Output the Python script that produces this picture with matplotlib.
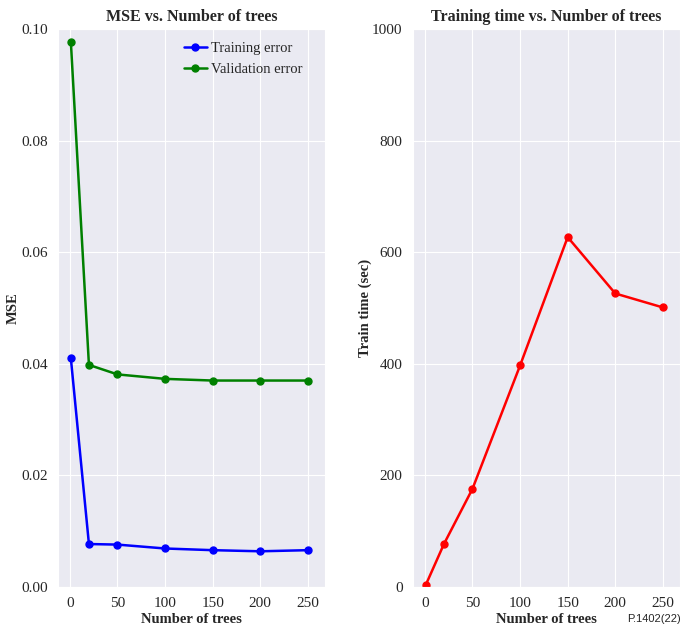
import matplotlib
matplotlib.use("Agg")
import matplotlib.pyplot as plt
import seaborn as sns

n_trees = [1, 20, 50, 100, 150, 200, 250]
train_err = [0.0410, 0.0077, 0.0076, 0.0069, 0.0066, 0.0064, 0.0066]
val_err = [0.0977, 0.0398, 0.0381, 0.0373, 0.0370, 0.0370, 0.0370]
train_time = [4, 77, 176, 397, 627, 526, 501]

sns.set_style("darkgrid")
plt.rcParams["font.family"] = ["Liberation Serif", "DejaVu Serif"]

fig = plt.figure(figsize=(6.82, 6.29), dpi=100)
W, H = 682, 629
ax1 = fig.add_axes([58 / W, 1 - 587 / H, (325 - 58) / W, (587 - 29) / H])
ax2 = fig.add_axes([413 / W, 1 - 587 / H, (680 - 413) / W, (587 - 29) / H])

ax1.plot(n_trees, train_err, color="blue", marker="o", ms=5, lw=1.8, label="Training error")
ax1.plot(n_trees, val_err, color="green", marker="o", ms=5, lw=1.8, label="Validation error")
ax1.set_xlim(-12.5, 268)
ax1.set_ylim(0, 0.1)
ax1.set_xticks([0, 50, 100, 150, 200, 250])
ax1.set_yticks([0.0, 0.02, 0.04, 0.06, 0.08, 0.10])
ax1.set_yticklabels(["0.00", "0.02", "0.04", "0.06", "0.08", "0.10"])
ax1.set_title("MSE vs. Number of trees", fontsize=11.5, fontweight="bold", pad=6)
ax1.set_xlabel("Number of trees", fontsize=10.5, fontweight="bold", labelpad=2)
ax1.set_ylabel("MSE", fontsize=10.5, fontweight="bold", labelpad=1)
ax1.legend(loc="upper right", bbox_to_anchor=(0.955, 0.995), frameon=False,
           fontsize=10.5, handlelength=1.6, handletextpad=0.3,
           borderaxespad=0.3, labelspacing=0.5)

ax2.plot(n_trees, train_time, color="red", marker="o", ms=5, lw=1.8)
ax2.set_xlim(-12.5, 268)
ax2.set_ylim(0, 1000)
ax2.set_xticks([0, 50, 100, 150, 200, 250])
ax2.set_yticks([0, 200, 400, 600, 800, 1000])
ax2.set_title("Training time vs. Number of trees", fontsize=11.5, fontweight="bold", pad=6)
ax2.set_xlabel("Number of trees", fontsize=10.5, fontweight="bold", labelpad=2)
ax2.set_ylabel("Train time (sec)", fontsize=10.5, fontweight="bold", labelpad=0)

for ax in (ax1, ax2):
    ax.tick_params(labelsize=11, pad=4)

fig.text(0.998, 0.008, "P.1402(22)", fontsize=8, family="Liberation Sans", ha="right", va="bottom")

fig.savefig("out.png", dpi=100)
